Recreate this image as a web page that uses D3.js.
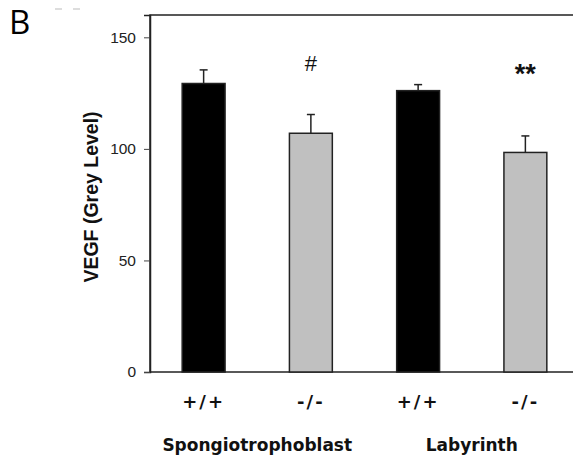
<!DOCTYPE html>
<html><head><meta charset="utf-8">
<script src="https://cdn.jsdelivr.net/npm/d3@7"></script>
<style>body{margin:0;background:#fff;}svg{display:block;}</style>
</head><body>
<svg id="c" width="573" height="456"></svg>
<script>
const categories = ["+/+ S", "-/- S", "+/+ L", "-/- L"];
const genotypeLabels = ["+/+", "-/-", "+/+", "-/-"];
const values = [129.3, 107.0, 126.1, 98.4];
const errors = [6.1, 8.4, 2.7, 7.4];
const fills = ["#000000", "#c0c0c0", "#000000", "#c0c0c0"];
const marks = ["", "#", "", "**"];
const yTicks = [0, 50, 100, 150];
const groups = [{name: "Spongiotrophoblast", from: 0, to: 1}, {name: "Labyrinth", from: 2, to: 3}];

const svg = d3.select("#c");
const pLeft = 150, pRight = 579, pTop = 15, pBottom = 372;
const x = d3.scaleBand().domain(categories).range([pLeft, pRight]).paddingInner(0.6).paddingOuter(0.3);
const y = d3.scaleLinear().domain([0, 160]).range([pBottom, pTop]);

// frame
svg.append("rect").attr("x", pLeft).attr("y", pTop).attr("width", pRight - pLeft).attr("height", pBottom - pTop)
  .attr("fill", "none").attr("stroke", "#222").attr("stroke-width", 1.5);

// y axis
const ya = svg.append("g").attr("transform", `translate(${pLeft},0)`)
  .call(d3.axisLeft(y).tickValues(yTicks).tickSize(6).tickPadding(8).tickFormat(d3.format("d")));
ya.select(".domain").attr("stroke", "#222").attr("stroke-width", 1.5);
ya.selectAll(".tick line").attr("stroke", "#444").attr("stroke-width", 1);
ya.selectAll(".tick text").attr("font-family", "Liberation Sans, Arial, sans-serif").attr("font-size", 15.5).attr("fill", "#222");

// bars
svg.selectAll("rect.bar").data(categories).enter().append("rect").attr("class", "bar")
  .attr("x", d => x(d)).attr("width", x.bandwidth())
  .attr("y", (d, i) => y(values[i])).attr("height", (d, i) => y(0) - y(values[i]))
  .attr("fill", (d, i) => fills[i]).attr("stroke", "#222").attr("stroke-width", 1.5);

// error bars
const eb = svg.selectAll("g.err").data(categories).enter().append("g").attr("class", "err");
eb.append("line").attr("x1", d => x(d) + x.bandwidth() / 2).attr("x2", d => x(d) + x.bandwidth() / 2)
  .attr("y1", (d, i) => y(values[i])).attr("y2", (d, i) => y(values[i] + errors[i]))
  .attr("stroke", "#222").attr("stroke-width", 1.5);
eb.append("line").attr("x1", d => x(d) + x.bandwidth() / 2 - 4).attr("x2", d => x(d) + x.bandwidth() / 2 + 4)
  .attr("y1", (d, i) => y(values[i] + errors[i])).attr("y2", (d, i) => y(values[i] + errors[i]))
  .attr("stroke", "#222").attr("stroke-width", 1.5);

// significance marks
svg.selectAll("text.mark").data(categories).enter().append("text").attr("class", "mark")
  .attr("x", d => x(d) + x.bandwidth() / 2).attr("y", (d, i) => i === 1 ? 71 : 83)
  .attr("text-anchor", "middle").attr("font-family", "Liberation Sans, Arial, sans-serif")
  .attr("font-size", (d, i) => i === 1 ? 22 : 27).attr("font-weight", (d, i) => i === 3 ? "bold" : "normal")
  .attr("fill", "#111").text((d, i) => marks[i]);

// genotype labels
svg.selectAll("text.geno").data(categories).enter().append("text").attr("class", "geno")
  .attr("x", d => x(d) + x.bandwidth() / 2).attr("y", 408).attr("text-anchor", "middle")
  .attr("font-family", "DejaVu Sans, Verdana, sans-serif").attr("font-weight", "bold").attr("font-size", 18)
  .attr("letter-spacing", 2).attr("fill", "#111").text((d, i) => genotypeLabels[i]);

// group labels
svg.selectAll("text.grp").data(groups).enter().append("text").attr("class", "grp")
  .attr("x", g => (x(categories[g.from]) + x(categories[g.to]) + x.bandwidth()) / 2)
  .attr("y", 451).attr("text-anchor", "middle")
  .attr("font-family", "DejaVu Sans, Verdana, sans-serif").attr("font-weight", "bold").attr("font-size", 17)
  .attr("fill", "#111").text(g => g.name);

// y title
svg.append("text").attr("transform", `translate(98,197) rotate(-90)`).attr("text-anchor", "middle")
  .attr("font-family", "Liberation Sans, Arial, sans-serif").attr("font-weight", "bold").attr("font-size", 19.5)
  .attr("fill", "#111").text("VEGF (Grey Level)");

// panel letter
svg.append("text").attr("x", 9).attr("y", 34).attr("font-family", "Open Sans, Liberation Sans, sans-serif")
  .attr("font-size", 33).attr("fill", "#000").text("B");
svg.append("line").attr("x1", 55).attr("x2", 62).attr("y1", 9).attr("y2", 9).attr("stroke", "#bbb").attr("stroke-width", 1);
svg.append("line").attr("x1", 73).attr("x2", 80).attr("y1", 9).attr("y2", 9).attr("stroke", "#bbb").attr("stroke-width", 1);
</script>
</body></html>
